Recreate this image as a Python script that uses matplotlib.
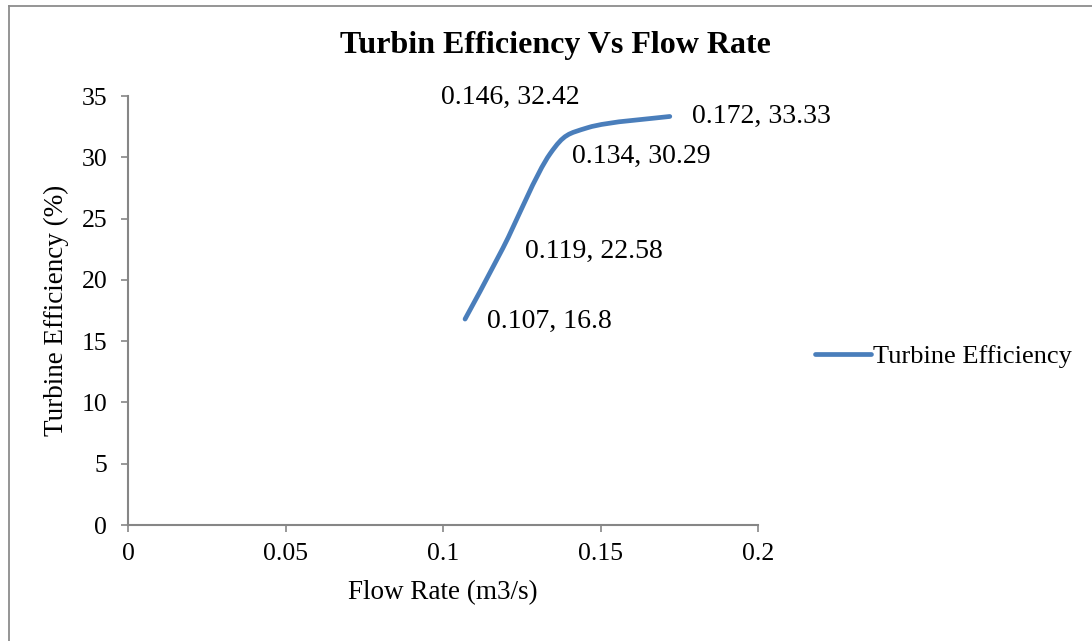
import matplotlib
matplotlib.use("Agg")
import matplotlib.pyplot as plt
from matplotlib.lines import Line2D
from matplotlib.patches import PathPatch
from matplotlib.path import Path
import numpy as np

plt.rcParams["font.family"] = ["Liberation Serif", "DejaVu Serif"]

flow_rate = [0.107, 0.119, 0.134, 0.146, 0.172]
efficiency = [16.8, 22.58, 30.29, 32.42, 33.33]
point_labels = ["0.107, 16.8", "0.119, 22.58", "0.134, 30.29", "0.146, 32.42", "0.172, 33.33"]
x_ticks = [0, 0.05, 0.1, 0.15, 0.2]
y_ticks = [0, 5, 10, 15, 20, 25, 30, 35]

LINE_COLOR = "#4a7ebb"
AXIS_COLOR = "#868686"


def smooth_path(xs, ys):
    # spreadsheet-style smoothed line: cubic Bezier segments with Catmull-Rom tangents
    pts = np.column_stack([xs, ys]).astype(float)
    n = len(pts)
    verts = [pts[0]]
    codes = [Path.MOVETO]
    for i in range(n - 1):
        p0 = pts[max(i - 1, 0)]
        p1 = pts[i]
        p2 = pts[i + 1]
        p3 = pts[min(i + 2, n - 1)]
        c1 = p1 + (p2 - p0) / 6.0
        c2 = p2 - (p3 - p1) / 6.0
        verts += [c1, c2, p2]
        codes += [Path.CURVE4] * 3
    return Path(verts, codes)


fig = plt.figure(figsize=(10.92, 6.41), dpi=100)
ax = fig.add_axes([128 / 1092, 1 - 525 / 641, 630 / 1092, 429 / 641])

ax.add_patch(PathPatch(smooth_path(flow_rate, efficiency), facecolor="none",
                       edgecolor=LINE_COLOR, linewidth=3.4, capstyle="round",
                       joinstyle="round"))

offsets = [(16, -2), (16, -2), (16, -2), (-6, 22), (16, 0)]
aligns = ["left", "left", "left", "right", "left"]
for x, y, text, off, ha in zip(flow_rate, efficiency, point_labels, offsets, aligns):
    ax.annotate(text, (x, y), xytext=off, textcoords="offset points",
                ha=ha, va="center", fontsize=20)

ax.set_xlim(0, 0.2)
ax.set_ylim(0, 35)
ax.set_xticks(x_ticks)
ax.set_xticklabels(["0", "0.05", "0.1", "0.15", "0.2"])
ax.set_yticks(y_ticks)
ax.tick_params(axis="both", direction="out", length=5, width=1.2,
               color=AXIS_COLOR, labelsize=18.5, labelcolor="black")
ax.tick_params(axis="y", pad=10)
ax.tick_params(axis="x", pad=8)
for side in ("top", "right"):
    ax.spines[side].set_visible(False)
for side in ("left", "bottom"):
    ax.spines[side].set_color(AXIS_COLOR)
    ax.spines[side].set_linewidth(1.5)

ax.set_xlabel("Flow Rate (m3/s)", fontsize=19.5, labelpad=11)
ax.set_ylabel("Turbine Efficiency (%)", fontsize=19.5, labelpad=9)
fig.text(555 / 1092, 1 - 46 / 641, "Turbin Efficiency Vs Flow Rate",
         ha="center", va="center", fontsize=23, fontweight="bold")

handle = Line2D([], [], color=LINE_COLOR, linewidth=3.4, solid_capstyle="round")
fig.legend([handle], ["Turbine Efficiency"], loc="center left",
           bbox_to_anchor=(802 / 1092, 1 - 356 / 641), frameon=False,
           fontsize=19, handlelength=2.1, handletextpad=0.1, borderpad=0)

# chart frame (left and top edges)
fig.add_artist(Line2D([8.5 / 1092, 8.5 / 1092], [0, 1 - 5.5 / 641],
                      transform=fig.transFigure, color="#8c8c8c", linewidth=1.3))
fig.add_artist(Line2D([8.5 / 1092, 1], [1 - 5.5 / 641, 1 - 5.5 / 641],
                      transform=fig.transFigure, color="#8c8c8c", linewidth=1.3))

fig.savefig("out.png", dpi=100, facecolor="white")
